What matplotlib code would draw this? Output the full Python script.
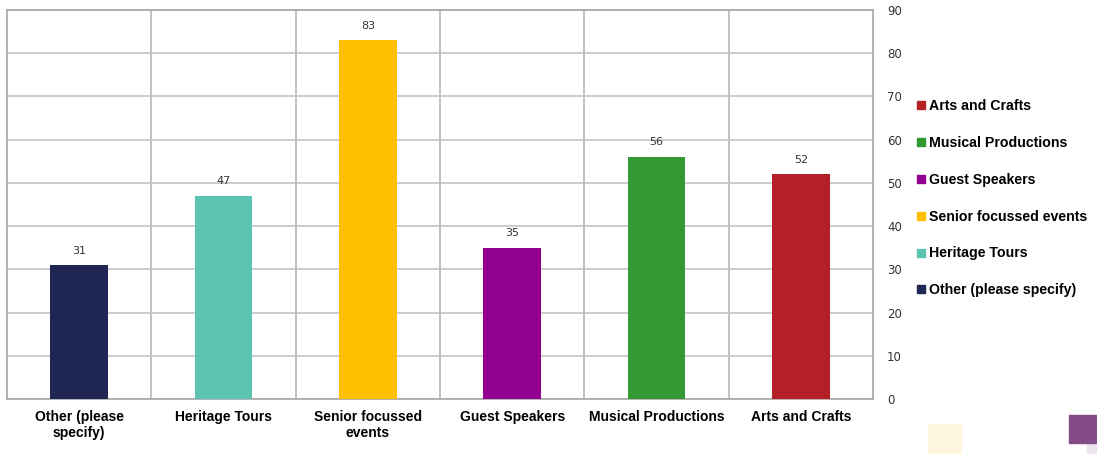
import matplotlib
matplotlib.use("Agg")
import matplotlib.pyplot as plt
from matplotlib.patches import Rectangle
from matplotlib.lines import Line2D

categories = ["Other (please\nspecify)", "Heritage Tours", "Senior focussed\nevents",
              "Guest Speakers", "Musical Productions", "Arts and Crafts"]
legend_names = ["Other (please specify)", "Heritage Tours", "Senior focussed events",
                "Guest Speakers", "Musical Productions", "Arts and Crafts"]
values = [31, 47, 83, 35, 56, 52]
colors = ["#1f2654", "#5cc3b0", "#ffc000", "#92008f", "#339933", "#b42025"]
y_ticks = [0, 10, 20, 30, 40, 50, 60, 70, 80, 90]

fig = plt.figure(figsize=(10.97, 4.54), dpi=100)
ax = fig.add_axes([7 / 1097, 1 - 399 / 454, 866 / 1097, 389 / 454])

x = list(range(len(categories)))
ax.bar(x, values, width=0.4, color=colors, zorder=3)
for xi, v in zip(x, values):
    ax.text(xi, v + 2.2, str(v), ha="center", va="bottom", fontsize=8,
            color="#333333", family="DejaVu Sans")

ax.set_xlim(-0.5, len(categories) - 0.5)
ax.set_ylim(0, 90)
ax.set_yticks(y_ticks)
ax.yaxis.tick_right()
ax.tick_params(axis="y", length=0, pad=10, labelsize=8.5, labelcolor="#333333")
ax.set_xticks(x)
ax.set_xticklabels(categories, fontsize=10, fontweight="bold", family="Liberation Sans")
ax.tick_params(axis="x", length=0, pad=8)

# horizontal gridlines plus category separators
ax.grid(axis="y", color="#c4c4c4", linewidth=1.2, zorder=0)
for b in range(1, len(categories)):
    ax.axvline(b - 0.5, color="#b8b8b8", linewidth=1.2, zorder=0)
for s in ax.spines.values():
    s.set_color("#a6a6a6")
    s.set_linewidth(1.2)

# legend in reverse order
handles = [Line2D([], [], marker="s", linestyle="none", markersize=6,
                  markerfacecolor=c, markeredgecolor=c) for c in colors[::-1]]
fig.legend(handles, legend_names[::-1], loc="upper left",
           bbox_to_anchor=(911 / 1097, 1 - 93 / 454), frameon=False,
           prop={"family": "Liberation Sans", "weight": "bold", "size": 10.2},
           handlelength=0.6, handletextpad=0.3, labelspacing=1.62, borderaxespad=0)

# decorative corner squares
fig.patches.append(Rectangle((928 / 1097, 0), 33 / 1097, 30 / 454,
                             transform=fig.transFigure, color="#fff6df", zorder=0))
fig.patches.append(Rectangle((1087 / 1097, 0), 10 / 1097, 11 / 454,
                             transform=fig.transFigure, color="#ebe4ee", zorder=0))
fig.patches.append(Rectangle((1069 / 1097, 11 / 454), 28 / 1097, 28 / 454,
                             transform=fig.transFigure, color="#834b87", zorder=1))

fig.savefig("out.png", dpi=100)
